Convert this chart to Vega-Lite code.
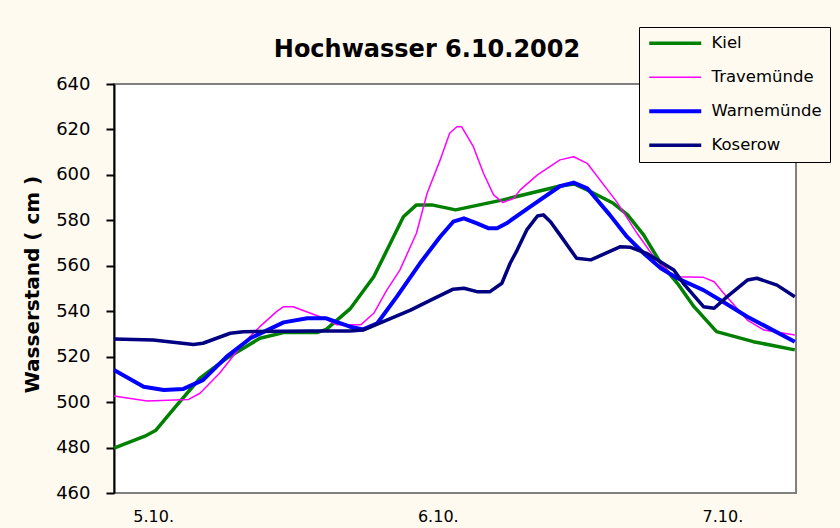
{
  "$schema": "https://vega.github.io/schema/vega-lite/v6.json",
  "width": 682,
  "height": 409,
  "autosize": {"type": "none"},
  "padding": {"left": 114, "top": 84, "right": 44, "bottom": 35},
  "background": "#FFFAF0",
  "title": {
    "text": "Hochwasser 6.10.2002",
    "font": "DejaVu Sans",
    "fontSize": 24,
    "fontWeight": "bold",
    "color": "#000000",
    "anchor": "middle",
    "frame": "group",
    "dx": -28,
    "offset": -54,
    "baseline": "alphabetic"
  },
  "config": {
    "view": {"fill": "#FFFFFF", "stroke": "#808080", "strokeWidth": 2},
    "font": "DejaVu Sans"
  },
  "data": {
    "values": [
      {"station": "Kiel", "t": 0, "v": 479.7},
      {"station": "Kiel", "t": 2.6, "v": 485},
      {"station": "Kiel", "t": 3.5, "v": 487.5},
      {"station": "Kiel", "t": 5.3, "v": 498.7},
      {"station": "Kiel", "t": 7.25, "v": 510.5},
      {"station": "Kiel", "t": 9.5, "v": 519.3},
      {"station": "Kiel", "t": 12.3, "v": 528.1},
      {"station": "Kiel", "t": 14.3, "v": 530.6},
      {"station": "Kiel", "t": 17.1, "v": 530.6},
      {"station": "Kiel", "t": 17.9, "v": 532},
      {"station": "Kiel", "t": 19.9, "v": 541},
      {"station": "Kiel", "t": 21.9, "v": 555.2},
      {"station": "Kiel", "t": 23.3, "v": 569.9},
      {"station": "Kiel", "t": 24.4, "v": 581.6},
      {"station": "Kiel", "t": 25.5, "v": 586.8},
      {"station": "Kiel", "t": 26.8, "v": 586.8},
      {"station": "Kiel", "t": 28.8, "v": 584.6},
      {"station": "Kiel", "t": 32.8, "v": 589},
      {"station": "Kiel", "t": 37.6, "v": 595.1},
      {"station": "Kiel", "t": 38.8, "v": 596},
      {"station": "Kiel", "t": 40.2, "v": 592.6},
      {"station": "Kiel", "t": 42.1, "v": 587.5},
      {"station": "Kiel", "t": 43.3, "v": 582.4},
      {"station": "Kiel", "t": 44.65, "v": 573.6},
      {"station": "Kiel", "t": 46.1, "v": 561.1},
      {"station": "Kiel", "t": 47.5, "v": 552.3},
      {"station": "Kiel", "t": 48.9, "v": 542},
      {"station": "Kiel", "t": 50.8, "v": 531},
      {"station": "Kiel", "t": 53.9, "v": 526.6},
      {"station": "Kiel", "t": 57.4, "v": 523},

      {"station": "Travemünde", "t": 0, "v": 502.7},
      {"station": "Travemünde", "t": 2.8, "v": 500.5},
      {"station": "Travemünde", "t": 6.3, "v": 501.2},
      {"station": "Travemünde", "t": 7.25, "v": 503.9},
      {"station": "Travemünde", "t": 8.9, "v": 512.7},
      {"station": "Travemünde", "t": 10.9, "v": 525.9},
      {"station": "Travemünde", "t": 12.3, "v": 533.2},
      {"station": "Travemünde", "t": 13.7, "v": 539.8},
      {"station": "Travemünde", "t": 14.3, "v": 542},
      {"station": "Travemünde", "t": 15.1, "v": 542},
      {"station": "Travemünde", "t": 17.7, "v": 536.9},
      {"station": "Travemünde", "t": 18.8, "v": 534},
      {"station": "Travemünde", "t": 20.8, "v": 534},
      {"station": "Travemünde", "t": 21.9, "v": 539.1},
      {"station": "Travemünde", "t": 23.0, "v": 549.3},
      {"station": "Travemünde", "t": 24.1, "v": 558.1},
      {"station": "Travemünde", "t": 25.5, "v": 574.3},
      {"station": "Travemünde", "t": 26.4, "v": 591.9},
      {"station": "Travemünde", "t": 27.5, "v": 606.6},
      {"station": "Travemünde", "t": 28.3, "v": 618.3},
      {"station": "Travemünde", "t": 28.9, "v": 621.2},
      {"station": "Travemünde", "t": 29.3, "v": 621.2},
      {"station": "Travemünde", "t": 30.3, "v": 612.4},
      {"station": "Travemünde", "t": 31.15, "v": 600.7},
      {"station": "Travemünde", "t": 32.0, "v": 591.2},
      {"station": "Travemünde", "t": 32.8, "v": 587.8},
      {"station": "Travemünde", "t": 33.7, "v": 589.7},
      {"station": "Travemünde", "t": 34.25, "v": 593.4},
      {"station": "Travemünde", "t": 35.7, "v": 600},
      {"station": "Travemünde", "t": 37.6, "v": 606.6},
      {"station": "Travemünde", "t": 38.75, "v": 608},
      {"station": "Travemünde", "t": 39.9, "v": 605.1},
      {"station": "Travemünde", "t": 42.4, "v": 588},
      {"station": "Travemünde", "t": 44.1, "v": 574.3},
      {"station": "Travemünde", "t": 45.5, "v": 564},
      {"station": "Travemünde", "t": 47.2, "v": 555.2},
      {"station": "Travemünde", "t": 49.7, "v": 554.9},
      {"station": "Travemünde", "t": 50.6, "v": 553},
      {"station": "Travemünde", "t": 51.4, "v": 547.9},
      {"station": "Travemünde", "t": 53.4, "v": 536.1},
      {"station": "Travemünde", "t": 54.8, "v": 531.7},
      {"station": "Travemünde", "t": 57.4, "v": 529.5},

      {"station": "Warnemünde", "t": 0, "v": 514.1},
      {"station": "Warnemünde", "t": 2.5, "v": 506.8},
      {"station": "Warnemünde", "t": 4.2, "v": 505.3},
      {"station": "Warnemünde", "t": 5.85, "v": 505.8},
      {"station": "Warnemünde", "t": 7.5, "v": 509.7},
      {"station": "Warnemünde", "t": 9.5, "v": 520},
      {"station": "Warnemünde", "t": 11.5, "v": 528.1},
      {"station": "Warnemünde", "t": 14.3, "v": 535.1},
      {"station": "Warnemünde", "t": 16.3, "v": 536.9},
      {"station": "Warnemünde", "t": 17.9, "v": 536.9},
      {"station": "Warnemünde", "t": 19.9, "v": 533.2},
      {"station": "Warnemünde", "t": 21.0, "v": 532},
      {"station": "Warnemünde", "t": 22.2, "v": 534.7},
      {"station": "Warnemünde", "t": 23.85, "v": 546.4},
      {"station": "Warnemünde", "t": 25.8, "v": 561.1},
      {"station": "Warnemünde", "t": 27.5, "v": 572.8},
      {"station": "Warnemünde", "t": 28.6, "v": 579.4},
      {"station": "Warnemünde", "t": 29.5, "v": 580.9},
      {"station": "Warnemünde", "t": 30.6, "v": 578.7},
      {"station": "Warnemünde", "t": 31.6, "v": 576.5},
      {"station": "Warnemünde", "t": 32.3, "v": 576.5},
      {"station": "Warnemünde", "t": 33.1, "v": 578.7},
      {"station": "Warnemünde", "t": 35.1, "v": 586},
      {"station": "Warnemünde", "t": 37.6, "v": 595},
      {"station": "Warnemünde", "t": 38.75, "v": 596.6},
      {"station": "Warnemünde", "t": 39.9, "v": 594.1},
      {"station": "Warnemünde", "t": 41.8, "v": 582.4},
      {"station": "Warnemünde", "t": 43.25, "v": 572.8},
      {"station": "Warnemünde", "t": 44.65, "v": 565.5},
      {"station": "Warnemünde", "t": 46.1, "v": 558.9},
      {"station": "Warnemünde", "t": 47.5, "v": 554.5},
      {"station": "Warnemünde", "t": 49.7, "v": 549.3},
      {"station": "Warnemünde", "t": 51.1, "v": 544.9},
      {"station": "Warnemünde", "t": 53.4, "v": 537.6},
      {"station": "Warnemünde", "t": 57.4, "v": 526.6},

      {"station": "Koserow", "t": 0, "v": 527.8},
      {"station": "Koserow", "t": 3.3, "v": 527.3},
      {"station": "Koserow", "t": 6.7, "v": 525.4},
      {"station": "Koserow", "t": 7.5, "v": 525.9},
      {"station": "Koserow", "t": 9.8, "v": 530.3},
      {"station": "Koserow", "t": 10.9, "v": 531},
      {"station": "Koserow", "t": 16.5, "v": 531.3},
      {"station": "Koserow", "t": 19.9, "v": 531.3},
      {"station": "Koserow", "t": 21.0, "v": 531.7},
      {"station": "Koserow", "t": 22.7, "v": 535.4},
      {"station": "Koserow", "t": 25.0, "v": 540.5},
      {"station": "Koserow", "t": 26.7, "v": 544.9},
      {"station": "Koserow", "t": 28.6, "v": 549.7},
      {"station": "Koserow", "t": 29.5, "v": 550.1},
      {"station": "Koserow", "t": 30.6, "v": 548.6},
      {"station": "Koserow", "t": 31.7, "v": 548.6},
      {"station": "Koserow", "t": 32.7, "v": 552.3},
      {"station": "Koserow", "t": 33.4, "v": 561.1},
      {"station": "Koserow", "t": 34.0, "v": 567},
      {"station": "Koserow", "t": 34.8, "v": 575.8},
      {"station": "Koserow", "t": 35.7, "v": 581.9},
      {"station": "Koserow", "t": 36.2, "v": 582.4},
      {"station": "Koserow", "t": 36.8, "v": 579.4},
      {"station": "Koserow", "t": 37.6, "v": 573.6},
      {"station": "Koserow", "t": 39.0, "v": 563.3},
      {"station": "Koserow", "t": 40.2, "v": 562.6},
      {"station": "Koserow", "t": 42.7, "v": 568.4},
      {"station": "Koserow", "t": 43.5, "v": 568.2},
      {"station": "Koserow", "t": 44.9, "v": 565.5},
      {"station": "Koserow", "t": 47.2, "v": 558.1},
      {"station": "Koserow", "t": 48.0, "v": 552.3},
      {"station": "Koserow", "t": 49.7, "v": 542},
      {"station": "Koserow", "t": 50.6, "v": 541.3},
      {"station": "Koserow", "t": 51.7, "v": 546.4},
      {"station": "Koserow", "t": 53.4, "v": 553.7},
      {"station": "Koserow", "t": 54.2, "v": 554.5},
      {"station": "Koserow", "t": 55.9, "v": 551.5},
      {"station": "Koserow", "t": 57.4, "v": 546.4}
    ]
  },
  "mark": {"type": "line", "interpolate": "linear", "strokeJoin": "round", "strokeCap": "butt"},
  "encoding": {
    "x": {
      "field": "t",
      "type": "quantitative",
      "scale": {"domain": [0, 57.5], "nice": false, "zero": false},
      "axis": {
        "title": null,
        "values": [3.3, 27.3, 51.3],
        "labelExpr": "datum.value < 10 ? '5.10.' : datum.value < 40 ? '6.10.' : '7.10.'",
        "domain": false,
        "ticks": false,
        "tickSize": 0,
        "grid": false,
        "labelFont": "DejaVu Sans",
        "labelFontSize": 16,
        "labelColor": "#000000",
        "labelBaseline": "alphabetic",
        "labelPadding": 28
      }
    },
    "y": {
      "field": "v",
      "type": "quantitative",
      "scale": {"domain": [460, 640], "nice": false, "zero": false},
      "axis": {
        "title": "Wasserstand ( cm )",
        "titleFont": "DejaVu Sans",
        "titleFontSize": 20,
        "titleFontWeight": "bold",
        "titleColor": "#000000",
        "titleX": -76,
        "titleY": 200,
        "titleAlign": "center",
        "titleBaseline": "alphabetic",
        "titleAngle": -90,
        "values": [460, 480, 500, 520, 540, 560, 580, 600, 620, 640],
        "grid": false,
        "domainColor": "#000000",
        "domainWidth": 2,
        "tickColor": "#000000",
        "tickWidth": 2,
        "tickSize": 8,
        "labelFont": "DejaVu Sans",
        "labelFontSize": 18,
        "labelColor": "#000000",
        "labelPadding": 16
      }
    },
    "strokeWidth": {
      "condition": [
        {"test": "datum.station === 'Travemünde'", "value": 1.5},
        {"test": "datum.station === 'Warnemünde'", "value": 4}
      ],
      "value": 3.5
    },
    "color": {
      "field": "station",
      "type": "nominal",
      "scale": {
        "domain": ["Kiel", "Travemünde", "Warnemünde", "Koserow"],
        "range": ["#008000", "#FF00FF", "#0000FF", "#000080"]
      },
      "legend": {
        "title": null,
        "orient": "none",
        "legendX": 525,
        "legendY": -57,
        "direction": "vertical",
        "symbolType": "M-4,0H4",
        "symbolSize": 169,
        "symbolOffset": 20,
        "labelOffset": 28,
        "rowPadding": 17,
        "padding": 8,
        "strokeColor": "#000000",
        "fillColor": "#FFFAF0",
        "labelFont": "DejaVu Sans",
        "labelFontSize": 16.5,
        "labelColor": "#000000",
        "labelLimit": 300,
        "encode": {
          "symbols": {
            "update": {
              "strokeWidth": {"signal": "datum.value === 'Travemünde' ? 1.5 : datum.value === 'Warnemünde' ? 4 : 3.5"}
            }
          }
        }
      }
    }
  }
}
